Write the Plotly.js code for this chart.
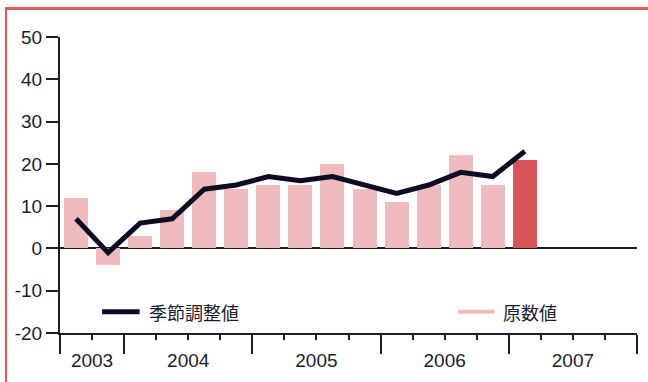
<!DOCTYPE html>
<html>
<head>
<meta charset="utf-8">
<script src="https://cdn.plot.ly/plotly-3.0.1.min.js"></script>
<style>
  html, body { margin: 0; padding: 0; background: #ffffff; }
  #wrap { position: relative; width: 648px; height: 382px; overflow: hidden; }
  #chart { position: absolute; left: 0; top: 0; width: 648px; height: 382px; }
  #frame {
    position: absolute; left: 5px; top: 7px; right: -4px; bottom: -4px;
    border-top: 3px solid #e05a5e; border-left: 2px solid #e05a5e;
    pointer-events: none; z-index: 5;
  }
</style>
</head>
<body>
<div id="wrap">
  <div id="chart"></div>
  <div id="frame"></div>
</div>
<script>
// Quarterly series, 2003 Q3 to 2007 Q1
const quarters = ['2003 Q3', '2003 Q4',
                  '2004 Q1', '2004 Q2', '2004 Q3', '2004 Q4',
                  '2005 Q1', '2005 Q2', '2005 Q3', '2005 Q4',
                  '2006 Q1', '2006 Q2', '2006 Q3', '2006 Q4',
                  '2007 Q1'];
const rawValues = [12, -4, 3, 9, 18, 14, 15, 15, 20, 14, 11, 15, 22, 15, 21];
const adjustedValues = [7, -1, 6, 7, 14, 15, 17, 16, 17, 15, 13, 15, 18, 17, 23];
const years = ['2003', '2004', '2005', '2006', '2007'];
const yTickValues = [-20, -10, 0, 10, 20, 30, 40, 50];
const yTickLabels = ['-20', '-10', '0', '10', '20', '30', '40', '50'];
const seriesNames = ['季節調整値', '原数値'];

const firstYear = 2003, firstQuarter = 3;
// position of each quarter on a continuous quarter axis
function quarterPos(label) {
  const y = parseInt(label.slice(0, 4), 10);
  const q = parseInt(label.slice(6), 10);
  return (y - firstYear) * 4 + (q - firstQuarter);
}
const xs = quarters.map(quarterPos);
const xMin = -0.5;
const xMax = quarterPos('2007 Q4') + 0.5;

// year boundaries and year label positions (clipped to the visible range)
const yearStarts = years.map(y => quarterPos(y + ' Q1') - 0.5);
const boundaries = yearStarts.map(v => Math.max(v, xMin)).concat([xMax]);
const yearCenters = years.map((y, i) => (boundaries[i] + boundaries[i + 1]) / 2);

const pink = '#efbbbe';
const highlight = '#d9545a';
const ink = '#0c0c24';
const axisInk = '#1c1c30';

const barColors = rawValues.map((v, i) => i === rawValues.length - 1 ? highlight : pink);

const traces = [
  {
    type: 'bar', name: seriesNames[1], x: xs, y: rawValues,
    width: 0.75, marker: { color: barColors, line: { width: 0 } },
    showlegend: false, hoverinfo: 'skip'
  },
  {
    type: 'scatter', mode: 'lines', name: seriesNames[0], x: xs, y: adjustedValues,
    line: { color: ink, width: 5 }, showlegend: false, hoverinfo: 'skip'
  },
  // empty trace that carries the year labels on an overlaid axis
  {
    type: 'scatter', mode: 'markers', x: [], y: [], xaxis: 'x2',
    showlegend: false, hoverinfo: 'skip'
  }
];

const tickFont = { family: 'Liberation Sans, Arial, sans-serif', size: 19, color: axisInk };
const cjkFont = { family: 'Noto Sans CJK JP, sans-serif', size: 18, color: axisInk };

const legendY = -15;
const layout = {
  width: 648, height: 382,
  margin: { l: 60, r: 11, t: 37, b: 49 },
  paper_bgcolor: '#ffffff', plot_bgcolor: '#ffffff',
  showlegend: false,
  bargap: 0,
  xaxis: {
    type: 'linear', range: [xMin, xMax], fixedrange: true,
    showgrid: false, zeroline: false,
    showline: true, linecolor: axisInk, linewidth: 2,
    tickmode: 'array', tickvals: boundaries, showticklabels: false,
    ticks: 'outside', ticklen: 19, tickwidth: 2, tickcolor: axisInk,
    minor: { tickmode: 'linear', tick0: -0.5, dtick: 1, ticks: 'outside',
             ticklen: 5, tickwidth: 2, tickcolor: axisInk, showgrid: false }
  },
  xaxis2: {
    type: 'linear', overlaying: 'x', matches: 'x', range: [xMin, xMax],
    showgrid: false, zeroline: false, showline: false,
    tickmode: 'array', tickvals: yearCenters, ticktext: years,
    ticks: '', ticklabelstandoff: 14, tickfont: tickFont, side: 'bottom'
  },
  yaxis: {
    range: [-20, 50], fixedrange: true,
    tickmode: 'array', tickvals: yTickValues, ticktext: yTickLabels,
    ticks: 'outside', ticklen: 12, tickwidth: 2, tickcolor: axisInk,
    showline: true, linecolor: axisInk, linewidth: 2,
    showgrid: false, zeroline: true, zerolinecolor: axisInk, zerolinewidth: 2,
    tickfont: tickFont
  },
  shapes: [
    { type: 'line', xref: 'paper', yref: 'y', x0: 0.073, x1: 0.138, y0: legendY, y1: legendY,
      line: { color: ink, width: 5 } },
    { type: 'line', xref: 'paper', yref: 'y', x0: 0.690, x1: 0.753, y0: legendY, y1: legendY,
      line: { color: pink, width: 4 } }
  ],
  annotations: [
    { xref: 'paper', yref: 'y', x: 0.150, y: legendY, xanchor: 'left', yanchor: 'middle',
      text: seriesNames[0], showarrow: false, font: cjkFont },
    { xref: 'paper', yref: 'y', x: 0.765, y: legendY, xanchor: 'left', yanchor: 'middle',
      text: seriesNames[1], showarrow: false, font: cjkFont }
  ]
};

Plotly.newPlot('chart', traces, layout, { staticPlot: true, displayModeBar: false });
</script>
</body>
</html>
